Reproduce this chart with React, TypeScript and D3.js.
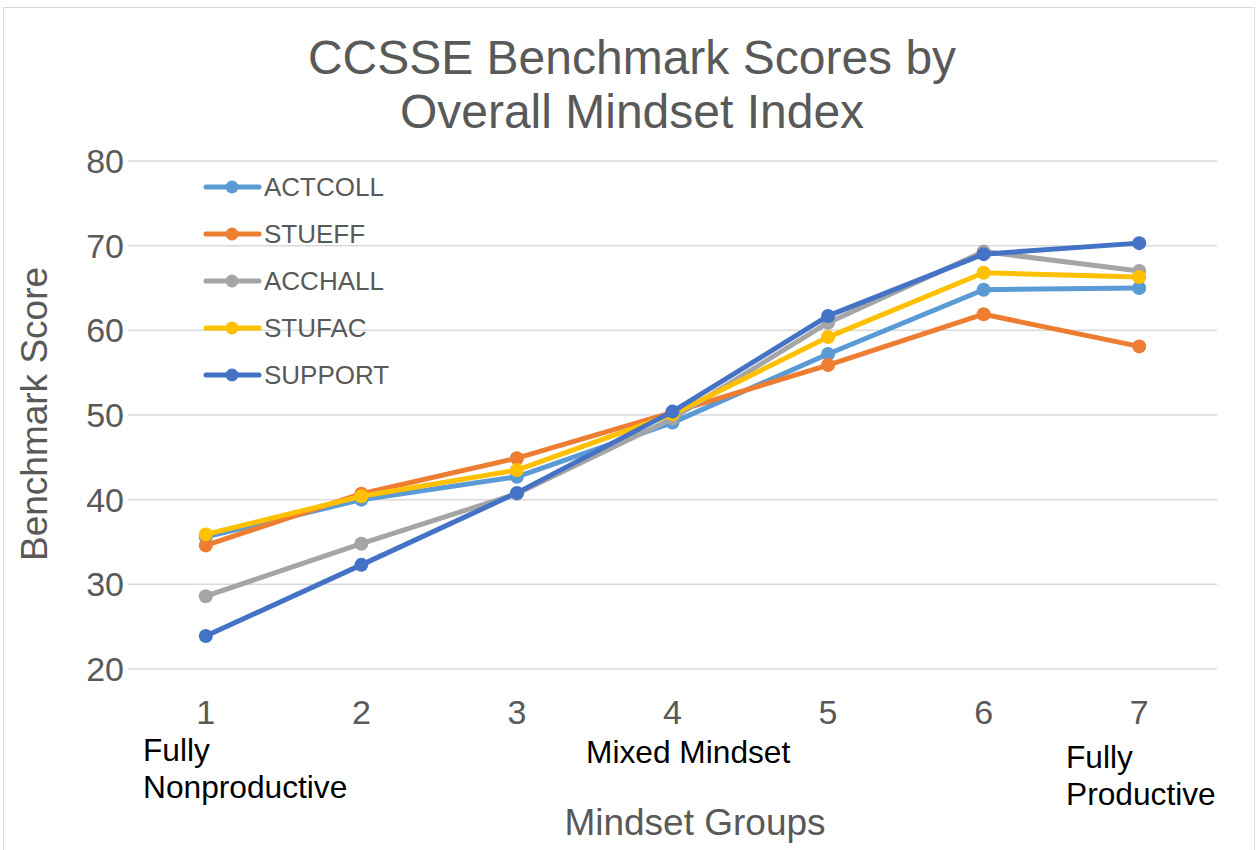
import React, { useEffect, useRef } from 'react';
import * as d3 from 'd3';

const groups = ['1', '2', '3', '4', '5', '6', '7'];
const seriesNames = ['ACTCOLL', 'STUEFF', 'ACCHALL', 'STUFAC', 'SUPPORT'];
const seriesColors = ['#5B9BD5', '#ED7D31', '#A5A5A5', '#FFC000', '#4472C4'];
const actcoll = [35.6, 40.0, 42.7, 49.1, 57.2, 64.8, 65.0];
const stueff = [34.6, 40.7, 44.9, 50.3, 55.9, 61.9, 58.1];
const acchall = [28.6, 34.8, 40.7, 49.6, 60.9, 69.3, 67.0];
const stufac = [35.9, 40.4, 43.5, 50.1, 59.2, 66.8, 66.3];
const support = [23.9, 32.3, 40.8, 50.4, 61.7, 69.0, 70.3];
const yTicks = [20, 30, 40, 50, 60, 70, 80];

function App() {
    const svgRef = useRef<SVGSVGElement>(null);

    useEffect(() => {
        const svg = d3.select(svgRef.current);
        svg.selectAll('*').remove();

        const width = 1259;
        const height = 850;
        const margin = { top: 161, right: 42, bottom: 181, left: 128 };
        const font = '"Liberation Sans", Arial, sans-serif';
        const grey = '#595959';

        // chart frame
        svg.append('rect')
            .attr('x', 3.5).attr('y', 7.5)
            .attr('width', 1251).attr('height', 850)
            .attr('fill', '#fff').attr('stroke', '#d9d9d9');

        const x = d3.scalePoint<string>().domain(groups)
            .range([margin.left, width - margin.right]).padding(0.5);
        const y = d3.scaleLinear().domain([20, 80]).range([height - margin.bottom, margin.top]);

        // gridlines
        svg.append('g').selectAll('line')
            .data(yTicks)
            .enter().append('line')
            .attr('x1', margin.left).attr('x2', width - margin.right)
            .attr('y1', d => y(d)).attr('y2', d => y(d))
            .attr('stroke', '#d9d9d9').attr('stroke-width', 1.5);

        // y tick labels
        svg.append('g').selectAll('text')
            .data(yTicks)
            .enter().append('text')
            .attr('x', 124).attr('y', d => y(d) + 12)
            .attr('text-anchor', 'end')
            .attr('font-family', font).attr('font-size', 34).attr('fill', grey)
            .text(d => d);

        // x tick labels
        svg.append('g').selectAll('text')
            .data(groups)
            .enter().append('text')
            .attr('x', d => x(d)!).attr('y', 724)
            .attr('text-anchor', 'middle')
            .attr('font-family', font).attr('font-size', 34).attr('fill', grey)
            .text(d => d);

        const allSeries = [actcoll, stueff, acchall, stufac, support];
        const line = d3.line<number>()
            .x((_, i) => x(groups[i])!)
            .y(d => y(d));

        allSeries.forEach((vals, si) => {
            const g = svg.append('g');
            g.append('path')
                .datum(vals)
                .attr('d', line)
                .attr('fill', 'none')
                .attr('stroke', seriesColors[si])
                .attr('stroke-width', 5)
                .attr('stroke-linejoin', 'round')
                .attr('stroke-linecap', 'round');
            g.selectAll('circle')
                .data(vals)
                .enter().append('circle')
                .attr('cx', (_, i) => x(groups[i])!)
                .attr('cy', d => y(d))
                .attr('r', 7)
                .attr('fill', seriesColors[si]);
        });

        // legend
        const legend = svg.append('g');
        seriesNames.forEach((name, i) => {
            const ly = 187 + i * 47;
            legend.append('line')
                .attr('x1', 206).attr('x2', 259).attr('y1', ly).attr('y2', ly)
                .attr('stroke', seriesColors[i]).attr('stroke-width', 5)
                .attr('stroke-linecap', 'round');
            legend.append('circle')
                .attr('cx', 232).attr('cy', ly).attr('r', 6.5)
                .attr('fill', seriesColors[i]);
            legend.append('text')
                .attr('x', 264).attr('y', ly + 9)
                .attr('font-family', font).attr('font-size', 26).attr('fill', grey)
                .text(name);
        });

        // title
        const title = svg.append('text')
            .attr('text-anchor', 'middle')
            .attr('font-family', font).attr('font-size', 48).attr('fill', grey);
        title.append('tspan').attr('x', 632).attr('y', 74).text('CCSSE Benchmark Scores by');
        title.append('tspan').attr('x', 632).attr('y', 128).text('Overall Mindset Index');

        // axis titles
        svg.append('text')
            .attr('transform', 'translate(47,414) rotate(-90)')
            .attr('text-anchor', 'middle')
            .attr('font-family', font).attr('font-size', 37).attr('fill', grey)
            .text('Benchmark Score');
        svg.append('text')
            .attr('x', 695).attr('y', 835)
            .attr('text-anchor', 'middle')
            .attr('font-family', font).attr('font-size', 37).attr('fill', grey)
            .text('Mindset Groups');

        // annotations
        const notes = [
            { x: 143, y: 761, t: 'Fully' },
            { x: 143, y: 798, t: 'Nonproductive' },
            { x: 586, y: 763, t: 'Mixed Mindset' },
            { x: 1066, y: 768, t: 'Fully' },
            { x: 1066, y: 805, t: 'Productive' },
        ];
        svg.append('g').selectAll('text')
            .data(notes)
            .enter().append('text')
            .attr('x', d => d.x).attr('y', d => d.y)
            .attr('font-family', font).attr('font-size', 31.7).attr('fill', '#000')
            .text(d => d.t);
    }, []);

    return (
        <svg ref={svgRef} width={1259} height={850}
            style={{ position: 'absolute', left: 0, top: 0 }}></svg>
    );
}

export default App;
